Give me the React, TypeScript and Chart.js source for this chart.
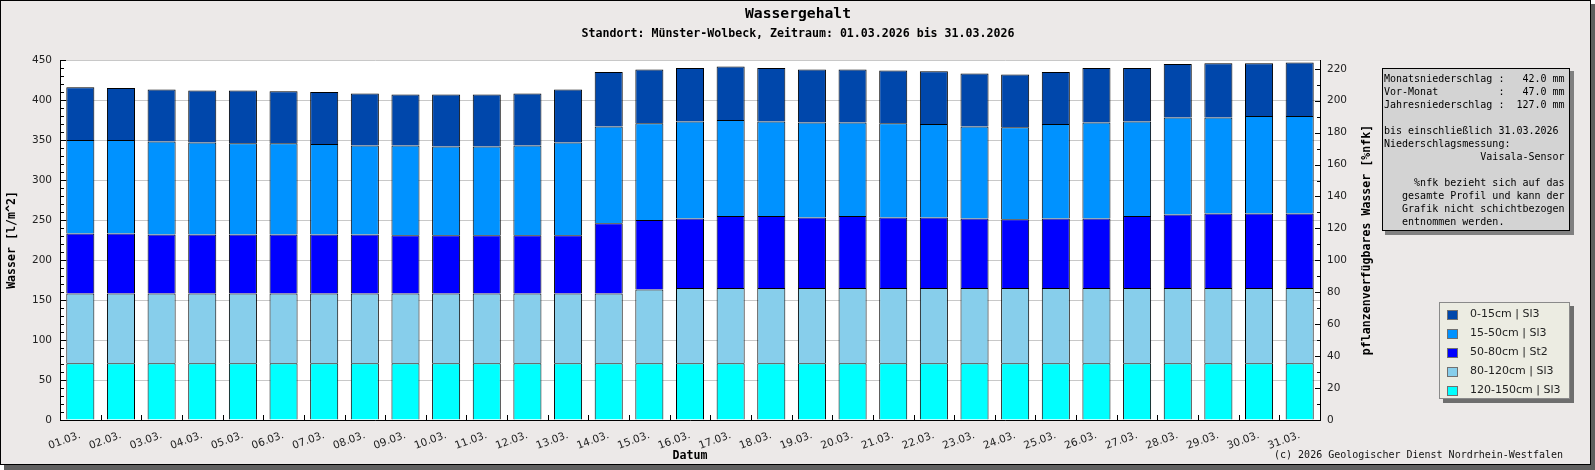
import { useEffect, useRef } from "react";
import { Chart, registerables } from "chart.js";

Chart.register(...registerables);

const W = 1595;
const H = 470;

// values, one entry per day, in l/m^2 per soil layer
const days = [
  "01.03.", "02.03.", "03.03.", "04.03.", "05.03.", "06.03.", "07.03.", "08.03.",
  "09.03.", "10.03.", "11.03.", "12.03.", "13.03.", "14.03.", "15.03.", "16.03.",
  "17.03.", "18.03.", "19.03.", "20.03.", "21.03.", "22.03.", "23.03.", "24.03.",
  "25.03.", "26.03.", "27.03.", "28.03.", "29.03.", "30.03.", "31.03.",
];
const layer0to15 = [66, 65, 65, 65, 66, 65, 65, 65, 64, 65, 65, 65, 66, 68, 67, 67, 67, 67, 66, 66, 66, 66, 66, 66, 65, 68, 67, 67, 68, 66, 67];
const layer15to50 = [117, 117, 116, 115, 114, 114, 113, 111, 112, 111, 111, 112, 116, 121, 121, 121, 120, 118, 119, 117, 118, 117, 115, 115, 118, 120, 118, 121, 120, 122, 122];
const layer50to80 = [75, 75, 74, 74, 74, 74, 74, 74, 73, 73, 73, 73, 73, 88, 87, 87, 90, 90, 88, 90, 88, 88, 87, 86, 87, 87, 90, 92, 93, 93, 93];
const layer80to120 = [87, 87, 87, 87, 87, 87, 87, 87, 87, 87, 87, 87, 87, 87, 92, 94, 94, 94, 94, 94, 94, 94, 94, 94, 94, 94, 94, 94, 94, 94, 94];
const layer120to150 = [71, 71, 71, 71, 71, 71, 71, 71, 71, 71, 71, 71, 71, 71, 71, 71, 71, 71, 71, 71, 71, 71, 71, 71, 71, 71, 71, 71, 71, 71, 71];

const layerNames = ["0-15cm | Sl3", "15-50cm | Sl3", "50-80cm | St2", "80-120cm | Sl3", "120-150cm | Sl3"];
const layerColors = ["#0047AB", "#0092FF", "#0000FF", "#87CEEB", "#00FFFF"];

const infoLines = [
  "Monatsniederschlag :   42.0 mm",
  "Vor-Monat          :   47.0 mm",
  "Jahresniederschlag :  127.0 mm",
  "",
  "bis einschließlich 31.03.2026",
  "Niederschlagsmessung:",
  "                Vaisala-Sensor",
  "",
  "     %nfk bezieht sich auf das",
  "   gesamte Profil und kann der",
  "   Grafik nicht schichtbezogen",
  "   entnommen werden.",
];

const MONO = '"DejaVu Sans Mono", monospace';
const SANS = '"DejaVu Sans", sans-serif';

const decor = {
  id: "decor",
  beforeDraw(chart: any) {
    const { ctx, chartArea: a } = chart;
    ctx.save();
    // frame with drop shadow
    ctx.fillStyle = "#606060";
    ctx.fillRect(4, 4, W - 4, H - 4);
    ctx.fillStyle = "#ECE9E8";
    ctx.fillRect(0, 0, 1591, 465);
    ctx.strokeStyle = "#000";
    ctx.lineWidth = 1;
    ctx.strokeRect(0.5, 0.5, 1590, 464);
    // plot area
    ctx.fillStyle = "#fff";
    ctx.fillRect(a.left, a.top, a.right - a.left, a.bottom - a.top);
    ctx.restore();
  },
  afterDraw(chart: any) {
    const { ctx, chartArea: a, scales } = chart;
    const y = scales.y;
    const y1 = scales.y1;
    const x = scales.x;
    ctx.save();

    // inner tick marks
    ctx.strokeStyle = "#000";
    ctx.lineWidth = 1;
    ctx.beginPath();
    for (const t of y.ticks) {
      const py = Math.round(y.getPixelForValue(t.value)) + 0.5;
      ctx.moveTo(a.left, py);
      ctx.lineTo(a.left + (t.value % 50 === 0 ? 6 : 4), py);
    }
    for (const t of y1.ticks) {
      if (t.value % 10 !== 0) continue;
      const py = Math.round(y1.getPixelForValue(t.value)) + 0.5;
      ctx.moveTo(a.right, py);
      ctx.lineTo(a.right - (t.value % 20 === 0 ? 5 : 3), py);
    }
    for (let i = 1; i < days.length; i++) {
      const px = Math.round((x.getPixelForValue(i - 1) + x.getPixelForValue(i)) / 2) + 0.5;
      ctx.moveTo(px, a.bottom);
      ctx.lineTo(px, a.bottom - 5);
    }
    ctx.stroke();

    // titles
    ctx.fillStyle = "#000";
    ctx.textAlign = "center";
    ctx.textBaseline = "middle";
    ctx.font = `bold 14.7px ${MONO}`;
    ctx.fillText("Wassergehalt", 798, 14);
    ctx.font = `bold 11.6px ${MONO}`;
    ctx.fillText("Standort: Münster-Wolbeck, Zeitraum: 01.03.2026 bis 31.03.2026", 798, 34);
    ctx.fillText("Datum", (a.left + a.right) / 2, 456);

    ctx.save();
    ctx.translate(12, (a.top + a.bottom) / 2);
    ctx.rotate(-Math.PI / 2);
    ctx.fillText("Wasser [l/m^2]", 0, 0);
    ctx.restore();
    ctx.save();
    ctx.translate(1367, (a.top + a.bottom) / 2);
    ctx.rotate(-Math.PI / 2);
    ctx.fillText("pflanzenverfügbares Wasser [%nfk]", 0, 0);
    ctx.restore();

    // info box
    ctx.fillStyle = "#808080";
    ctx.fillRect(1385, 71, 189, 164);
    ctx.fillStyle = "#D3D3D3";
    ctx.fillRect(1382, 68, 188, 163);
    ctx.strokeStyle = "#000";
    ctx.strokeRect(1382.5, 68.5, 187, 162);
    ctx.fillStyle = "#000";
    ctx.textAlign = "left";
    ctx.font = `10px ${MONO}`;
    infoLines.forEach((line, i) => {
      ctx.fillText(line, 1384, 79.5 + i * 13);
    });

    // legend
    ctx.fillStyle = "#6E6E6E";
    ctx.fillRect(1443, 306, 131, 97);
    ctx.fillStyle = "#ECECE2";
    ctx.fillRect(1439, 302, 131, 97);
    ctx.strokeStyle = "#8A8A8A";
    ctx.strokeRect(1439.5, 302.5, 130, 96);
    ctx.font = `11px ${SANS}`;
    layerNames.forEach((name, i) => {
      const cy = 314.5 + i * 19;
      ctx.fillStyle = layerColors[i];
      ctx.fillRect(1447, Math.round(cy - 5), 11, 10);
      ctx.strokeStyle = "#707070";
      ctx.strokeRect(1447.5, Math.round(cy - 5) + 0.5, 10, 9);
      ctx.fillStyle = "#222";
      ctx.fillText(name, 1470, cy);
    });

    // footer
    ctx.textAlign = "right";
    ctx.font = `10px ${MONO}`;
    ctx.fillStyle = "#111";
    ctx.fillText("(c) 2026 Geologischer Dienst Nordrhein-Westfalen", 1563, 455);

    ctx.restore();
  },
};

const layerData = [layer120to150, layer80to120, layer50to80, layer15to50, layer0to15];

export default function App() {
  const canvasRef = useRef<HTMLCanvasElement | null>(null);

  useEffect(() => {
    const canvas = canvasRef.current;
    if (!canvas) return;

    // datasets bottom-up: deepest layer first
    const datasets = layerData.map((data, i) => {
      const idx = layerNames.length - 1 - i;
      return {
        label: layerNames[idx],
        data: data,
        backgroundColor: layerColors[idx],
        borderColor: "#000",
        borderWidth: 1,
        barPercentage: 0.69,
        categoryPercentage: 1,
        yAxisID: "y",
      };
    });

    const tickFont = { family: "DejaVu Sans", size: 10.5 };

    const chart = new Chart(canvas, {
      type: "bar",
      data: { labels: days, datasets },
      options: {
        responsive: false,
        animation: false,
        layout: { padding: { left: 0, right: 0, top: 60, bottom: 0 } },
        plugins: {
          legend: { display: false },
          title: { display: false },
          tooltip: { enabled: false },
        },
        scales: {
          x: {
            stacked: true,
            grid: { display: true, drawOnChartArea: false, drawTicks: false },
            border: { display: true, color: "#000", width: 1 },
            ticks: {
              font: tickFont,
              color: "#222",
              minRotation: 20,
              maxRotation: 20,
              autoSkip: false,
              padding: 9,
            },
            afterFit: (scale: any) => {
              scale.height = 50;
            },
          },
          y: {
            stacked: true,
            position: "left",
            min: 0,
            max: 450,
            grid: {
              drawTicks: false,
              color: (c: any) => (c.tick && c.tick.value % 50 === 0 ? "#C8C8C8" : "rgba(0,0,0,0)"),
            },
            border: { display: true, color: "#000", width: 1 },
            ticks: {
              stepSize: 10,
              autoSkip: false,
              font: tickFont,
              color: "#222",
              padding: 8,
              callback: (v: any) => (v % 50 === 0 ? String(v) : ""),
            },
            afterFit: (scale: any) => {
              scale.width = 60;
            },
          },
          y1: {
            position: "right",
            min: 0,
            max: 225.5,
            grid: { drawOnChartArea: false, drawTicks: false },
            border: { display: true, color: "#000", width: 1 },
            ticks: {
              stepSize: 10,
              includeBounds: false,
              autoSkip: false,
              font: tickFont,
              color: "#222",
              padding: 7,
              callback: (v: any) => (v % 20 === 0 ? String(v) : ""),
            },
            afterFit: (scale: any) => {
              scale.width = 275;
            },
          },
        },
      },
      plugins: [decor],
    } as any);

    return () => {
      chart.destroy();
    };
  }, []);

  return (
    <div style={{ position: "absolute", left: 0, top: 0, width: W, height: H }}>
      <canvas ref={canvasRef} width={W} height={H} style={{ display: "block", width: W, height: H }} />
    </div>
  );
}
